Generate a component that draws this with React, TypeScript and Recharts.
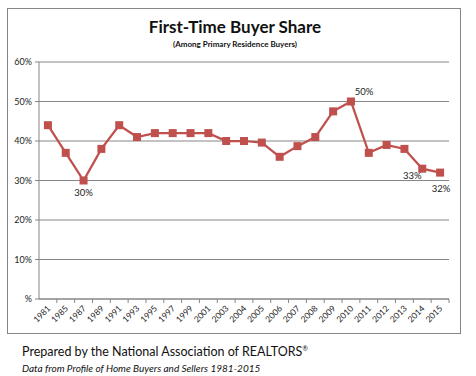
import React from 'react'
import { CartesianGrid, LabelList, Line, LineChart, XAxis, YAxis } from 'recharts'

const years = ['1981', '1985', '1987', '1989', '1991', '1993', '1995', '1997', '1999', '2001', '2003', '2004', '2005', '2006', '2007', '2008', '2009', '2010', '2011', '2012', '2013', '2014', '2015']
const share = [44, 37, 30, 38, 44, 41, 42, 42, 42, 42, 40, 40, 39.6, 36, 38.7, 41, 47.5, 50, 37, 39, 38, 33, 32]
const pointLabels = ['', '', '30%', '', '', '', '', '', '', '', '', '', '', '', '', '', '', '50%', '', '', '', '33%', '32%']
const yTicks = [0, 10, 20, 30, 40, 50, 60]

// where each data label sits relative to its point
const labelOffsets = {
  '30%': { dx: 0, dy: 13 },
  '50%': { dx: 13, dy: -9 },
  '33%': { dx: -10, dy: 8 },
  '32%': { dx: 1, dy: 17 },
}

const data = years.map((y, i) => ({ year: y, value: share[i], label: pointLabels[i] }))

const font = 'Lato, "Open Sans", sans-serif'
const gray = '#868686'
const red = '#C0504D'

const chartW = 476
const chartH = 340
const margin = { top: 62, right: 27, left: 0, bottom: 0 }
const yAxisW = 39
const halfStep = (chartW - margin.left - margin.right - yAxisW) / years.length / 2

function SquareDot(props) {
  const { cx, cy } = props
  if (cx == null || cy == null) return null
  return <rect x={cx - 4} y={cy - 4} width={8} height={8} fill={red} />
}

function YearTick(props) {
  const { x, y, payload } = props
  return (
    <g>
      <line x1={x + halfStep} y1={y - 8} x2={x + halfStep} y2={y - 4} stroke={gray} />
      <text x={x + 3} y={y + 2} transform={`rotate(-45, ${x + 3}, ${y + 2})`} textAnchor='end'
        fontSize={8.5} fill='#222' fontFamily={font}>{payload.value}</text>
    </g>
  )
}

function PointLabel(props) {
  const { x, y, value } = props
  if (!value) return null
  const off = labelOffsets[value] || { dx: 0, dy: 0 }
  return (
    <text x={x + off.dx} y={y + off.dy} textAnchor='middle' dominantBaseline='middle'
      fontSize={9.5} fill='#222' fontFamily={font}>{value}</text>
  )
}

export default function App() {
  return (
    <div style={{ position: 'absolute', left: 0, top: 0, width: 476, height: 376, background: '#fff', fontFamily: font }}>
      <div style={{ position: 'absolute', left: 7, top: 8, width: 454, height: 326, border: `1px solid ${gray}`, boxSizing: 'border-box' }} />
      <div style={{ position: 'absolute', left: 0, top: 16, width: 470, textAlign: 'center', fontWeight: 'bold', fontSize: 17, color: '#111' }}>
        First-Time Buyer Share
      </div>
      <div style={{ position: 'absolute', left: 0, top: 39, width: 470, textAlign: 'center', fontWeight: 'bold', fontSize: 8, color: '#111' }}>
        (Among Primary Residence Buyers)
      </div>
      <div style={{ position: 'absolute', left: 0, top: 0 }}>
        <LineChart width={chartW} height={chartH} data={data} margin={margin}>
          <CartesianGrid vertical={false} stroke={gray} strokeWidth={1} />
          <XAxis dataKey='year' height={41} interval={0} axisLine={{ stroke: gray }} tickLine={false}
            padding={{ left: halfStep, right: halfStep }} tick={<YearTick />} />
          <YAxis width={yAxisW} domain={[0, 60]} ticks={yTicks} interval={0} axisLine={{ stroke: gray }}
            tickLine={{ stroke: gray }} tickSize={4} tickMargin={3}
            tickFormatter={(v) => (v === 0 ? '%' : `${v}%`)}
            tick={{ fontSize: 9, fill: '#222', fontFamily: font }} />
          <Line type='linear' dataKey='value' stroke={red} strokeWidth={2.25} dot={<SquareDot />}
            activeDot={false} isAnimationActive={false}>
            <LabelList dataKey='label' content={<PointLabel />} />
          </Line>
        </LineChart>
      </div>
      <div style={{ position: 'absolute', left: 22, top: 344, fontSize: 12.5, color: '#111' }}>
        Prepared by the National Association of REALTORS<sup style={{ fontSize: 7 }}>®</sup>
      </div>
      <div style={{ position: 'absolute', left: 22, top: 362, fontSize: 10, fontStyle: 'italic', color: '#111' }}>
        Data from Profile of Home Buyers and Sellers 1981-2015
      </div>
    </div>
  )
}
